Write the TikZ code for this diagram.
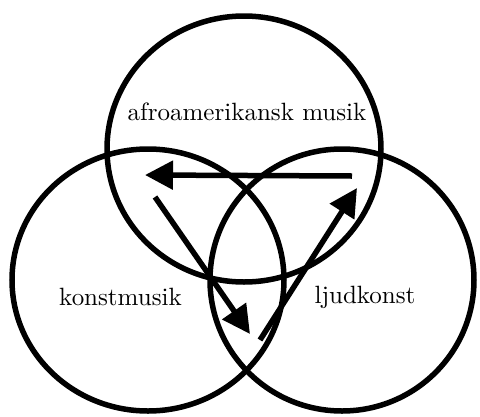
\documentclass[tikz,border=0pt]{standalone}
\usepackage{fontspec}
\setmainfont{lmroman10-regular.otf}
\usetikzlibrary{arrows.meta,shapes.geometric}
\begin{document}
\begin{tikzpicture}[x=1pt,y=-1pt,
  ring/.style={ellipse, draw, line width=5.5pt, inner sep=0pt},
  flow/.style={line width=5.5pt, -{Triangle[length=28pt,width=28pt]}},
  lbl/.style={font=\fontsize{25}{30}\selectfont, inner sep=0pt, anchor=base}]
\useasboundingbox (0,0) rectangle (480,416);
\node[ring, minimum width=274pt, minimum height=266pt] (top) at (244,149) {};
\node[ring, minimum width=272pt, minimum height=262pt] (left) at (148,280) {};
\node[ring, minimum width=264pt, minimum height=262pt] (right) at (342,280) {};
\node[lbl] (afro) at (247,120) {afroamerikansk musik};
\node[lbl] (konst) at (120.5,305) {konstmusik};
\node[lbl] (ljud) at (365,303) {ljudkonst};
\coordinate (h1) at (352,176);
\coordinate (h2) at (145,175);
\coordinate (d1) at (155,197);
\coordinate (d2) at (250,334);
\coordinate (u1) at (260,340);
\coordinate (u2) at (357,188);
\draw[flow] (h1) -- (h2);
\draw[flow] (d1) -- (d2);
\draw[flow] (u1) -- (u2);
\end{tikzpicture}
\end{document}
